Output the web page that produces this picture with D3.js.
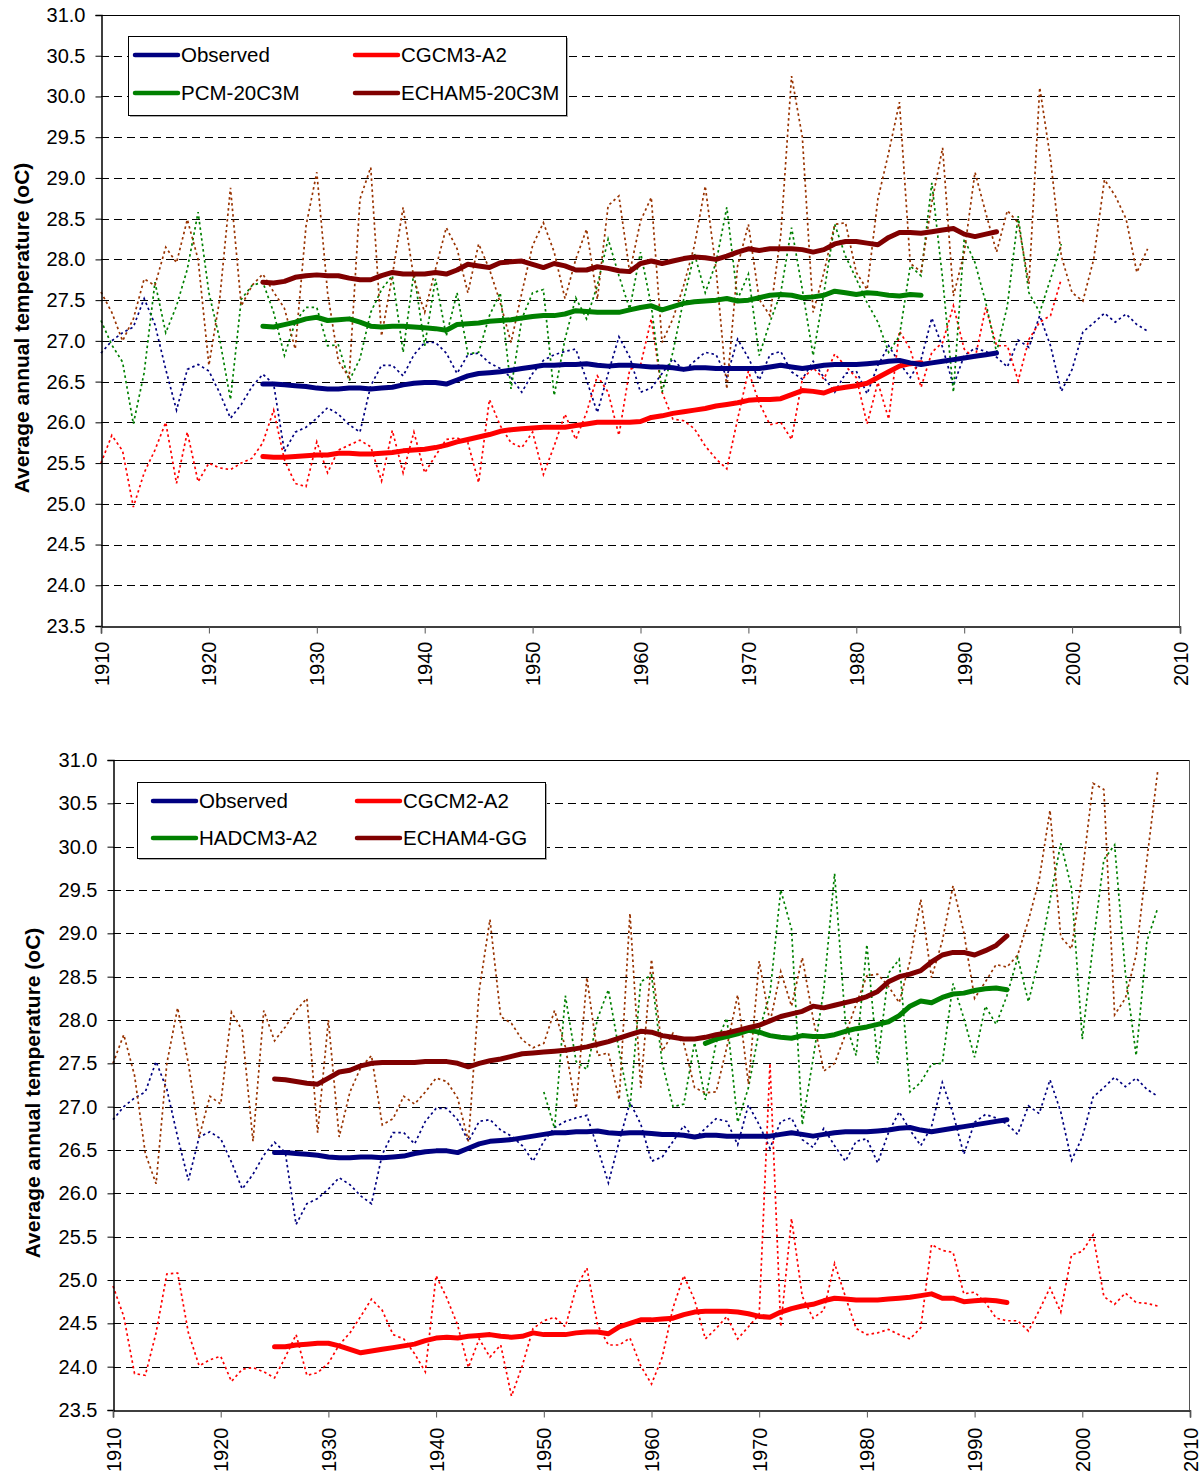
<!DOCTYPE html>
<html><head><meta charset="utf-8">
<script src="https://cdn.jsdelivr.net/npm/d3@7"></script>
<style>body{margin:0;background:#fff}svg{display:block}text{font-family:"Liberation Sans",Arial,sans-serif}</style>
</head><body>
<svg id="c" width="1200" height="1477"></svg>
<script>
// ---------- DATA ----------
const yTicks = [23.5,24.0,24.5,25.0,25.5,26.0,26.5,27.0,27.5,28.0,28.5,29.0,29.5,30.0,30.5,31.0];
const xTicks = [1910,1920,1930,1940,1950,1960,1970,1980,1990,2000,2010];
const yLabel = "Average annual temperature (oC)";

// Observed (same in both panels)
const obsStart = 1910;
const obsAnnual = [26.85,27.0,27.1,27.17,27.52,27.2,26.65,26.15,26.65,26.71,
 26.63,26.36,26.05,26.22,26.44,26.59,26.47,25.64,25.88,25.94,
 26.05,26.18,26.1,25.97,25.88,26.45,26.7,26.7,26.57,26.83,
 26.98,26.98,26.85,26.6,26.83,26.85,26.73,26.66,26.55,26.37,
 26.6,26.76,26.83,26.87,26.9,26.52,26.12,26.6,27.05,26.8,
 26.37,26.42,26.6,26.78,26.63,26.75,26.86,26.83,26.56,27.02,
 26.79,26.52,26.83,26.87,26.62,26.53,26.75,26.55,26.37,26.6,
 26.63,26.35,26.7,26.94,26.73,26.55,26.77,27.28,26.92,26.45,
 26.82,26.91,26.87,26.8,26.68,27.01,26.92,27.31,26.94,26.38,
 26.65,27.11,27.22,27.34,27.23,27.33,27.2,27.12];
const obsSmoothStart = 1925;
const obsSmooth = [26.47,26.47,26.46,26.45,26.44,26.42,26.41,26.41,26.42,26.42,
 26.41,26.42,26.43,26.46,26.48,26.49,26.49,26.47,26.52,26.57,
 26.6,26.61,26.62,26.64,26.66,26.68,26.7,26.7,26.71,26.71,
 26.72,26.7,26.69,26.7,26.7,26.69,26.68,26.68,26.67,26.65,
 26.67,26.67,26.66,26.66,26.66,26.66,26.66,26.68,26.7,26.68,
 26.66,26.68,26.7,26.71,26.71,26.71,26.72,26.73,26.75,26.76,
 26.73,26.71,26.73,26.75,26.77,26.79,26.81,26.83,26.85];

// Top panel models
const cgcm3Start = 1910;
const cgcm3Annual = [25.5,25.84,25.65,24.96,25.38,25.66,26.0,25.25,25.88,25.27,
 25.5,25.44,25.42,25.5,25.56,25.75,26.15,25.54,25.25,25.21,
 25.76,25.38,25.66,25.72,25.78,25.7,25.28,25.9,25.38,25.88,
 25.38,25.59,25.79,25.81,25.75,25.26,26.28,25.96,25.75,25.69,
 25.88,25.36,25.71,26.1,25.79,26.12,26.57,26.37,25.84,26.65,
 26.7,27.27,26.37,26.04,26.02,25.92,25.71,25.55,25.43,26.04,
 26.63,26.24,25.97,26.0,25.79,26.53,26.67,26.53,26.84,26.69,
 26.55,25.98,26.49,26.04,27.12,26.9,26.43,26.86,26.98,27.43,
 26.9,26.78,27.41,26.94,26.94,26.51,27.02,27.23,27.31,27.76];
const pcmStart = 1910;
const pcmAnnual = [27.25,26.95,26.74,25.98,26.61,27.72,27.1,27.43,27.88,28.58,
 27.59,27.02,26.28,27.51,27.68,27.72,27.35,26.82,27.23,27.41,
 27.41,26.94,26.95,26.51,26.78,27.35,27.63,27.8,26.86,27.84,
 26.94,27.76,27.06,27.59,26.84,26.86,27.31,27.59,26.41,27.27,
 27.59,27.63,26.33,27.02,27.53,27.27,27.68,28.25,27.8,27.39,
 28.09,27.43,26.37,26.86,27.51,28.07,27.59,27.96,28.64,27.51,
 27.82,26.82,27.23,27.59,28.39,27.63,26.82,27.59,28.43,28.04,
 27.76,27.47,27.23,26.86,27.06,27.92,27.8,28.94,27.76,26.37,
 28.25,27.96,27.47,26.86,27.43,28.53,27.59,27.35,27.76,28.19];
const echam5Start = 1910;
const echam5Annual = [27.6,27.35,27.0,27.27,27.76,27.68,28.15,27.96,28.49,28.0,
 26.7,27.51,28.88,27.43,27.68,27.82,27.6,27.4,26.9,28.41,
 29.07,27.59,26.75,26.55,28.74,29.13,27.06,27.8,28.64,27.76,
 27.35,27.88,28.39,28.13,27.59,28.19,27.88,27.47,26.98,27.59,
 28.17,28.45,28.09,27.52,28.0,28.37,27.51,28.66,28.78,27.84,
 28.47,28.76,26.98,27.27,27.68,28.17,28.9,27.88,26.41,27.92,
 28.43,27.51,27.31,28.3,30.25,29.5,27.35,27.84,28.43,28.45,
 27.84,27.63,28.74,29.31,29.93,27.95,27.85,28.7,29.37,27.55,
 28.08,29.07,28.57,28.09,28.6,28.45,27.7,30.11,29.23,28.04,
 27.59,27.49,28.0,28.98,28.78,28.5,27.84,28.13];
const cgcm3SmoothStart = 1925;
const cgcm3Smooth = [25.58,25.57,25.57,25.58,25.59,25.6,25.6,25.62,25.62,25.61,
 25.61,25.62,25.63,25.65,25.66,25.67,25.69,25.72,25.76,25.79,
 25.82,25.85,25.89,25.91,25.92,25.93,25.94,25.94,25.94,25.96,
 25.98,26.0,26.0,26.0,26.0,26.01,26.06,26.08,26.11,26.13,
 26.15,26.17,26.2,26.22,26.24,26.27,26.28,26.28,26.29,26.34,
 26.39,26.38,26.36,26.41,26.43,26.45,26.48,26.55,26.62,26.69,
 26.72,26.73];
const pcmSmoothStart = 1925;
const pcmSmooth = [27.18,27.17,27.2,27.23,27.27,27.29,27.25,27.26,27.27,27.23,
 27.18,27.17,27.18,27.18,27.17,27.16,27.15,27.13,27.2,27.21,
 27.22,27.24,27.25,27.26,27.28,27.3,27.31,27.31,27.33,27.37,
 27.36,27.35,27.35,27.35,27.38,27.41,27.43,27.38,27.42,27.46,
 27.48,27.49,27.5,27.52,27.49,27.5,27.53,27.56,27.57,27.56,
 27.53,27.54,27.56,27.61,27.59,27.57,27.59,27.58,27.56,27.55,
 27.57,27.56];
const echam5SmoothStart = 1925;
const echam5Smooth = [27.72,27.71,27.73,27.78,27.8,27.81,27.8,27.8,27.77,27.75,
 27.75,27.8,27.84,27.82,27.82,27.82,27.84,27.82,27.87,27.94,
 27.92,27.9,27.96,27.97,27.98,27.94,27.9,27.95,27.92,27.87,
 27.87,27.91,27.89,27.86,27.85,27.95,27.98,27.95,27.98,28.01,
 28.03,28.02,28.0,28.04,28.09,28.13,28.11,28.13,28.13,28.13,
 28.12,28.09,28.12,28.19,28.22,28.22,28.2,28.18,28.27,28.33,
 28.33,28.32,28.34,28.36,28.38,28.31,28.28,28.31,28.34];

// Bottom panel models
const cgcm2Start = 1910;
const cgcm2Annual = [24.93,24.58,23.92,23.9,24.39,25.07,25.08,24.39,24.01,24.08,
 24.12,23.83,23.97,23.99,23.94,23.87,24.11,24.37,23.9,23.93,
 24.04,24.25,24.39,24.58,24.78,24.65,24.37,24.32,24.15,23.94,
 25.05,24.79,24.48,23.99,24.32,24.11,24.25,23.66,24.01,24.44,
 24.53,24.57,24.46,24.91,25.14,24.48,24.25,24.25,24.33,24.01,
 23.8,24.11,24.68,25.05,24.77,24.32,24.44,24.58,24.32,24.46,
 24.6,27.5,24.46,25.71,24.81,24.56,24.65,25.19,24.81,24.44,
 24.37,24.39,24.43,24.37,24.32,24.45,25.41,25.34,25.32,24.84,
 24.86,24.74,24.56,24.53,24.53,24.41,24.65,24.91,24.63,25.29,
 25.33,25.52,24.81,24.72,24.85,24.74,24.73,24.7];
const hadcm3Start = 1950;
const hadcm3Annual = [27.17,26.75,28.28,27.52,27.43,28.02,28.35,27.64,26.98,28.44,
 28.52,27.5,27.0,27.03,27.74,27.08,27.74,28.02,26.82,27.22,
 27.88,28.3,29.5,29.05,26.79,27.55,28.35,29.69,27.97,27.59,
 28.87,27.5,28.54,28.7,27.17,27.28,27.49,27.5,28.42,28.02,
 27.57,28.16,27.95,28.28,28.72,28.21,28.72,29.38,30.04,29.52,
 27.78,28.87,29.85,30.02,28.54,27.59,28.91,29.29];
const echam4Start = 1910;
const echam4Annual = [27.5,27.83,27.36,26.46,26.11,27.5,28.14,27.5,26.65,27.12,
 27.03,28.09,27.88,26.6,28.11,27.76,27.92,28.11,28.25,26.7,
 28.0,26.65,27.17,27.45,27.59,26.79,26.86,27.12,27.03,27.17,
 27.33,27.29,27.1,26.6,28.34,29.16,28.04,27.96,27.77,27.68,
 27.73,28.11,27.69,26.98,28.49,27.59,27.62,27.08,29.23,27.22,
 28.7,27.64,27.85,27.73,27.22,27.16,27.17,27.69,28.29,27.26,
 28.68,27.97,28.56,28.16,28.72,28.02,27.41,27.5,27.83,28.18,
 28.51,28.53,28.39,28.2,28.68,29.39,28.49,28.91,29.55,29.01,
 28.25,28.44,28.64,28.61,28.75,29.15,29.62,30.42,28.96,28.82,
 29.69,30.73,30.66,28.06,28.25,28.75,29.85,30.87];
const cgcm2SmoothStart = 1925;
const cgcm2Smooth = [24.23,24.23,24.25,24.26,24.27,24.27,24.24,24.2,24.16,24.18,
 24.2,24.22,24.24,24.26,24.3,24.33,24.34,24.33,24.35,24.36,
 24.37,24.35,24.34,24.35,24.39,24.37,24.37,24.37,24.39,24.4,
 24.4,24.38,24.46,24.5,24.54,24.54,24.55,24.56,24.6,24.63,
 24.64,24.64,24.64,24.63,24.61,24.58,24.57,24.63,24.67,24.7,
 24.72,24.76,24.79,24.78,24.77,24.77,24.77,24.78,24.79,24.8,
 24.82,24.84,24.79,24.79,24.75,24.76,24.77,24.76,24.74];
const hadcm3SmoothStart = 1965;
const hadcm3Smooth = [27.73,27.78,27.81,27.84,27.88,27.86,27.82,27.8,27.79,27.82,
 27.81,27.81,27.83,27.87,27.9,27.92,27.95,27.98,28.05,28.16,
 28.22,28.2,28.26,28.3,28.31,28.34,28.36,28.37,28.35];
const echam4SmoothStart = 1925;
const echam4Smooth = [27.32,27.31,27.29,27.27,27.26,27.33,27.4,27.42,27.47,27.5,
 27.51,27.51,27.51,27.51,27.52,27.52,27.52,27.5,27.46,27.5,
 27.53,27.55,27.58,27.61,27.62,27.63,27.64,27.65,27.67,27.69,
 27.72,27.75,27.79,27.83,27.87,27.86,27.82,27.8,27.78,27.78,
 27.8,27.83,27.85,27.88,27.91,27.94,27.99,28.04,28.07,28.1,
 28.16,28.14,28.17,28.2,28.23,28.27,28.33,28.44,28.5,28.53,
 28.57,28.67,28.75,28.78,28.78,28.75,28.8,28.86,28.97];

const topLegend = ["Observed","CGCM3-A2","PCM-20C3M","ECHAM5-20C3M"];
const bottomLegend = ["Observed","CGCM2-A2","HADCM3-A2","ECHAM4-GG"];

// ---------- STYLE ----------
const C = {obs:"#000080", red:"#ff0000", green:"#008000", brown:"#993300", maroon:"#800000"};

const toPts = (start, arr) => arr.map((v,i)=>[start+i, v]);

const panels = [
  {box:{l:101,r:1180,t:15,b:626}, ylabX:22, ylabY:328, xlabOff:15,
   legend:{x:128,y:36,w:438,h:79,cols:[135,355],rows:[55,93],labels:topLegend},
   annual:[
     {pts:toPts(obsStart,obsAnnual),c:C.obs},
     {pts:toPts(cgcm3Start,cgcm3Annual),c:C.red},
     {pts:toPts(pcmStart,pcmAnnual),c:C.green},
     {pts:toPts(echam5Start,echam5Annual),c:C.brown}],
   smooth:[
     {pts:toPts(cgcm3SmoothStart,cgcm3Smooth),c:C.red},
     {pts:toPts(pcmSmoothStart,pcmSmooth),c:C.green},
     {pts:toPts(echam5SmoothStart,echam5Smooth),c:C.maroon},
     {pts:toPts(obsSmoothStart,obsSmooth),c:C.obs}]},
  {box:{l:113,r:1190,t:760,b:1410}, ylabX:33, ylabY:1093, xlabOff:17,
   legend:{x:137,y:782,w:408,h:76,cols:[153,357],rows:[801,838],labels:bottomLegend},
   annual:[
     {pts:toPts(obsStart,obsAnnual),c:C.obs},
     {pts:toPts(cgcm2Start,cgcm2Annual),c:C.red},
     {pts:toPts(hadcm3Start,hadcm3Annual),c:C.green},
     {pts:toPts(echam4Start,echam4Annual),c:C.brown}],
   smooth:[
     {pts:toPts(cgcm2SmoothStart,cgcm2Smooth),c:C.red},
     {pts:toPts(hadcm3SmoothStart,hadcm3Smooth),c:C.green},
     {pts:toPts(echam4SmoothStart,echam4Smooth),c:C.maroon},
     {pts:toPts(obsSmoothStart,obsSmooth),c:C.obs}]}
];
const legendColors = [C.obs, C.red, C.green, C.maroon];

const svg = d3.select("#c");

panels.forEach(p=>{
  const {l,r,t,b} = p.box;
  const x = d3.scaleLinear().domain([1910,2010]).range([l,r]);
  const y = d3.scaleLinear().domain([23.5,31]).range([b,t]);
  const g = svg.append("g");

  // gridlines
  g.selectAll("line.grid").data(yTicks.filter(v=>v>23.5 && v<31)).enter().append("line")
    .attr("x1",l).attr("x2",r).attr("y1",d=>Math.round(y(d))+0.5).attr("y2",d=>Math.round(y(d))+0.5)
    .attr("stroke","#000").attr("stroke-width",1).attr("stroke-dasharray","8,5");

  // plot border (top/right)
  g.append("line").attr("x1",l).attr("x2",r).attr("y1",t+0.5).attr("y2",t+0.5).attr("stroke","#000");
  g.append("line").attr("x1",r-0.5).attr("x2",r-0.5).attr("y1",t).attr("y2",b).attr("stroke","#555");

  // annual dotted lines
  const line = d3.line().x(d=>x(d[0])).y(d=>y(d[1]));
  p.annual.forEach(s=>{
    g.append("path").attr("d",line(s.pts)).attr("fill","none")
      .attr("stroke",s.c).attr("stroke-width",1.7).attr("stroke-dasharray","2.5,3");
  });
  // smoothed thick lines
  p.smooth.forEach(s=>{
    g.append("path").attr("d",line(s.pts)).attr("fill","none")
      .attr("stroke",s.c).attr("stroke-width",5).attr("stroke-linejoin","round").attr("stroke-linecap","round");
  });

  // axes
  const ya = g.append("g").attr("transform",`translate(${l+0.5},0)`)
    .call(d3.axisLeft(y).tickValues(yTicks).tickFormat(d3.format(".1f")).tickSize(6).tickPadding(10));
  ya.select(".domain").attr("stroke","#000").attr("stroke-width",1.5);
  ya.selectAll(".tick line").attr("stroke","#000");
  ya.selectAll("text").attr("font-size",20).attr("fill","#000")
    .style("font-family","'Liberation Sans',Arial,sans-serif");

  const xa = g.append("g").attr("transform",`translate(0,${b+0.5})`)
    .call(d3.axisBottom(x).tickValues(xTicks).tickFormat(d3.format("d")).tickSize(7));
  xa.select(".domain").attr("stroke","#000").attr("stroke-width",1.5);
  xa.selectAll(".tick line").attr("stroke","#555");
  xa.selectAll("text").attr("font-size",20).attr("fill","#000")
    .style("font-family","'Liberation Sans',Arial,sans-serif")
    .attr("text-anchor","end").attr("dy","0.35em")
    .attr("transform",`translate(0,${p.xlabOff}) rotate(-90)`)
    .attr("x",0).attr("y",0);

  // y label
  g.append("text").attr("transform",`translate(${p.ylabX},${p.ylabY}) rotate(-90)`)
    .attr("text-anchor","middle").attr("dy","0.35em")
    .attr("font-size",21).attr("font-weight","bold").text(yLabel);

  // legend
  const L = p.legend;
  g.append("rect").attr("x",L.x+2).attr("y",L.y+2).attr("width",L.w).attr("height",L.h).attr("fill","#aaa");
  g.append("rect").attr("x",L.x+0.5).attr("y",L.y+0.5).attr("width",L.w).attr("height",L.h)
    .attr("fill","#fff").attr("stroke","#000").attr("stroke-width",1);
  L.labels.forEach((lab,i)=>{
    const cx = L.cols[i%2], cy = L.rows[Math.floor(i/2)];
    g.append("line").attr("x1",cx).attr("x2",cx+43).attr("y1",cy).attr("y2",cy)
      .attr("stroke",legendColors[i]).attr("stroke-width",4.5).attr("stroke-linecap","round");
    g.append("text").attr("x",cx+46).attr("y",cy).attr("dy","0.35em")
      .attr("font-size",20.5).attr("fill","#000").text(lab);
  });
});
</script>
</body></html>
